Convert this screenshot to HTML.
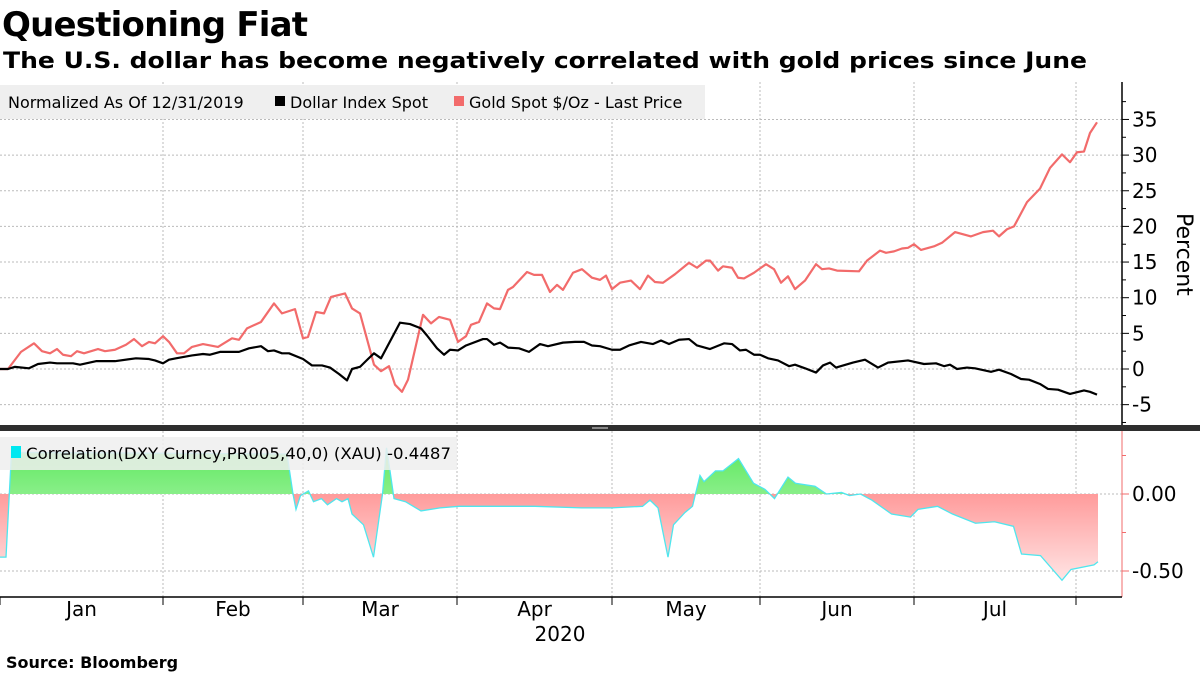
<!DOCTYPE html>
<html><head><meta charset="utf-8"><style>
html,body{margin:0;padding:0;background:#fff;width:1200px;height:675px;overflow:hidden}
svg{display:block;font-family:"DejaVu Sans","Liberation Sans",sans-serif}
</style></head><body>
<svg id="chart" width="1200" height="675">
<defs>
<linearGradient id="gGreen" x1="0" y1="0" x2="0" y2="1"><stop offset="0" stop-color="#5fe85f"/><stop offset="1" stop-color="#d6fbd6"/></linearGradient>
<linearGradient id="gRed" x1="0" y1="0" x2="0" y2="1"><stop offset="0" stop-color="#ff7474"/><stop offset="1" stop-color="#ffe4e4"/></linearGradient>
<clipPath id="clipAbove"><rect x="0" y="430" width="1122" height="64"/></clipPath>
<clipPath id="clipBelow"><rect x="0" y="494" width="1122" height="103"/></clipPath>
</defs>
<text x="2" y="36" font-size="34" font-weight="bold" textLength="306">Questioning Fiat</text>
<text x="3" y="68" font-size="22" font-weight="bold" textLength="1084" lengthAdjust="spacingAndGlyphs">The U.S. dollar has become negatively correlated with gold prices since June</text>
<g id="grid"></g>
<g id="marks"></g>
<rect x="0" y="425" width="1200" height="6" fill="#2e2e2e"/>
<rect x="592" y="427" width="16" height="2" fill="#888"/>
<g>
<rect x="0" y="85" width="705" height="34" fill="#efefef"/>
<text x="8" y="108" font-size="16">Normalized As Of 12/31/2019</text>
<rect x="275" y="96" width="10" height="10" fill="#000"/>
<text x="290" y="108" font-size="16">Dollar Index Spot</text>
<rect x="454" y="96" width="10" height="10" fill="#f26b6b"/>
<text x="469" y="108" font-size="16">Gold Spot $/Oz - Last Price</text>
</g>
<g>
<rect x="0" y="437" width="457" height="33" fill="#efefef" opacity="0.85"/>
<rect x="11" y="446" width="10" height="12" fill="#00e8f0"/>
<text x="26" y="459" font-size="16" textLength="425" lengthAdjust="spacingAndGlyphs">Correlation(DXY Curncy,PR005,40,0) (XAU) -0.4487</text>
</g>
<text x="0" y="0" font-size="22" transform="translate(1177,213) rotate(90)">Percent</text>
<text x="560" y="641" font-size="20" text-anchor="middle">2020</text>
<text x="6" y="668" font-size="16" font-weight="bold">Source: Bloomberg</text>
</svg>
<script>
const goldDays=[0,1.6,4.2,6.8,8.4,10,11.4,12.6,14.2,15.4,16.8,19.6,21,23,25.2,26.8,28.4,29.8,31,32.6,33.8,35.4,36.8,38.4,40.6,43.6,46.4,47.8,49.4,52.2,54.8,56.4,59,60.6,61.6,63.2,64.8,66.2,69,70.4,72,74.8,76.2,77.8,79,80.4,81.6,84.6,86.2,87.8,90,91.6,93.2,94.2,95.8,97.4,98.8,100,101.6,102.6,105.4,106.8,108.4,110,111.4,112.6,114.6,116.4,118.4,120,121.2,122.4,124,126.2,128,129.6,131,132.6,135,137.8,139.4,141.2,142,143.6,144.6,146.4,147.6,148.8,150.8,153.2,154.8,156.2,157.6,159,161,163.2,164.4,165.8,167.4,171.8,173.4,176,177.2,178.8,180.4,181.6,182.8,184.2,186.8,188.4,191,194.2,196.6,198.6,199.8,201.4,202.8,205.4,208,210,212.4,214,215.4,216.8,218,219.4];
const goldValues=[0,0,2.4,3.6,2.5,2.2,2.8,2.0,1.8,2.5,2.2,2.8,2.5,2.7,3.4,4.2,3.2,3.8,3.6,4.6,3.8,2.2,2.2,3.1,3.5,3.1,4.3,4.1,5.7,6.6,9.2,7.8,8.4,4.3,4.5,8.0,7.8,10.1,10.6,8.5,7.8,0.6,-0.3,0.4,-2.2,-3.2,-1.5,7.6,6.4,7.3,6.9,3.8,4.6,6.2,6.6,9.2,8.5,8.4,11.1,11.5,13.6,13.2,13.2,10.8,11.8,11.1,13.5,14.0,12.8,12.5,13.1,11.2,12.1,12.4,11.2,13.1,12.2,12.1,13.3,14.9,14.2,15.2,15.2,13.8,14.4,14.2,12.8,12.7,13.5,14.7,14.0,12.1,13.0,11.2,12.4,14.7,14.0,14.1,13.8,13.7,15.2,16.6,16.3,16.5,16.9,17.0,17.5,16.7,17.2,17.7,19.2,18.6,19.2,19.4,18.6,19.6,20.0,23.4,25.3,28.2,30.1,29.0,30.4,30.5,33.1,34.6];
const dollarDays=[0,1.6,3,5.8,7.6,10,11.4,14.6,16,19.2,23,27.2,29.8,31,32.6,33.8,35.2,38.4,40.6,42,44,47.8,49.8,52.2,53.6,54.8,56.4,57.8,60.6,62.4,64.4,66,67.8,69.4,70.4,72,73.6,74.8,76.2,80,82,84.2,85.4,87.4,88.8,90,91.6,93.2,96.6,97.4,98.8,100,101.6,103.8,105.8,108,109.6,112.6,115,116.8,118.4,120,122.4,124,125.8,128.2,130.6,132.2,133.8,135.8,137.8,139.4,142,144.8,146.4,148,149.2,150.8,152,153.6,155.6,157.8,159,161,163.2,164.6,166,167.2,170.6,173,175.6,177.6,181.6,184.8,187.2,188.8,190,191.4,193.4,195,198.2,199.8,202.2,204.2,205.8,208,209.6,211.6,214,216.8,218,219.4];
const dollarValues=[0,0,0.3,0.1,0.7,0.9,0.8,0.8,0.6,1.1,1.1,1.5,1.4,1.2,0.8,1.3,1.5,1.9,2.1,2.0,2.4,2.4,2.9,3.2,2.5,2.6,2.2,2.2,1.4,0.5,0.5,0.2,-0.7,-1.6,0,0.3,1.4,2.2,1.5,6.5,6.3,5.7,4.7,2.9,2.0,2.7,2.6,3.3,4.2,4.2,3.4,3.7,3.0,2.9,2.4,3.5,3.2,3.7,3.8,3.8,3.3,3.2,2.7,2.7,3.3,3.8,3.5,4.0,3.5,4.1,4.2,3.3,2.8,3.6,3.5,2.6,2.7,2.0,2.0,1.5,1.2,0.4,0.6,0.1,-0.5,0.5,0.9,0.2,0.9,1.3,0.2,0.9,1.2,0.7,0.8,0.4,0.6,0,0.2,0.1,-0.4,-0.1,-0.7,-1.4,-1.5,-2.1,-2.8,-2.9,-3.5,-3.0,-3.2,-3.6];
const corrDays=[0,1.2,2.3,57.4,58.6,59.2,60.1,61.7,62.7,64.3,65.5,67.3,68.4,69.6,70.4,72.7,74.7,76.5,77.3,78,78.8,81.1,84.2,88,91.8,107,116.3,122.4,128.5,130,131.6,133.6,134.7,137,138.5,140,140.8,143.1,144.6,147.7,150.7,153,154.9,157.6,159.1,163,165.3,168.3,169.9,172.1,174.4,178.3,182.1,183.6,187.5,190.5,195.1,198.9,202.7,204.3,208.1,212.4,214.2,218.8,219.6];
const corrValues=[-0.41,-0.41,0.27,0.26,0,-0.1,-0.01,0.02,-0.05,-0.03,-0.07,-0.03,-0.05,-0.03,-0.13,-0.2,-0.41,0,0.3,0.15,-0.03,-0.05,-0.11,-0.09,-0.08,-0.08,-0.09,-0.09,-0.08,-0.04,-0.09,-0.41,-0.2,-0.12,-0.08,0.12,0.08,0.15,0.15,0.23,0.07,0.03,-0.03,0.11,0.07,0.05,0,0.01,-0.01,0,-0.04,-0.13,-0.15,-0.1,-0.08,-0.13,-0.19,-0.18,-0.21,-0.39,-0.4,-0.56,-0.49,-0.46,-0.44];
const monthTickDays=[0,32.6,60.6,91.4,122.4,152,182.8,215.2];
const monthLabels=["Jan","Feb","Mar","Apr","May","Jun","Jul"];
const topTicks=[-5,0,5,10,15,20,25,30,35];
const bottomTicks=[0,-0.5];

const NS="http://www.w3.org/2000/svg";
const xS=d=>d*5.0;
const yTop=v=>369-v*7.13;
const yBot=v=>494-v*154;
const AX=1122;
function mk(tag,attrs,parent){const e=document.createElementNS(NS,tag);for(const k in attrs)e.setAttribute(k,attrs[k]);parent.appendChild(e);return e;}
const grid=document.getElementById('grid'), marks=document.getElementById('marks');

// horizontal gridlines + labels top
topTicks.forEach(t=>{
  const l=mk('line',{x1:0,x2:AX,y1:yTop(t),y2:yTop(t),stroke:'#bbb','stroke-dasharray':'2,2'},grid);
  
  
  mk('line',{x1:AX,x2:AX+7,y1:yTop(t),y2:yTop(t),stroke:'#000'},grid);
  const tx=mk('text',{x:AX+10,y:yTop(t)+7,'font-size':20},grid);tx.textContent=String(t);
  
  
});
for(let v=-7.5;v<=40;v+=5){mk('line',{x1:AX,x2:AX+4,y1:yTop(v),y2:yTop(v),stroke:'#000'},grid);}
mk('line',{x1:AX,x2:AX,y1:82,y2:425,stroke:'#000','stroke-width':1.5},grid);
// bottom panel grid
bottomTicks.forEach(t=>{
  mk('line',{x1:0,x2:AX,y1:yBot(t),y2:yBot(t),stroke:'#bbb','stroke-dasharray':'2,2'},grid);
  mk('line',{x1:AX,x2:AX+7,y1:yBot(t),y2:yBot(t),stroke:'#f26b6b'},grid);
  const tx=mk('text',{x:AX+10,y:yBot(t)+7,'font-size':20},grid);tx.textContent=t===0?'0.00':'-0.50';
  
  
});
[0.25,-0.25].forEach(t=>mk('line',{x1:AX,x2:AX+4,y1:yBot(t),y2:yBot(t),stroke:'#f26b6b'},grid));
mk('line',{x1:AX,x2:AX,y1:431,y2:597,stroke:'#f26b6b'},grid);
// vertical gridlines and month ticks
monthTickDays.forEach((d,i)=>{
  if(i>0){mk('line',{x1:xS(d),x2:xS(d),y1:82,y2:425,stroke:'#bbb','stroke-dasharray':'2,2'},grid);
  mk('line',{x1:xS(d),x2:xS(d),y1:431,y2:597,stroke:'#bbb','stroke-dasharray':'2,2'},grid);}
  mk('line',{x1:xS(d),x2:xS(d),y1:597,y2:605,stroke:'#000'},grid);
  if(i<monthLabels.length){
    const tx=mk('text',{x:(xS(d)+xS(monthTickDays[i+1]))/2,y:616,'font-size':20,'text-anchor':'middle'},grid);
    tx.textContent=monthLabels[i];
    
    
  }
});
mk('line',{x1:0,x2:AX,y1:597,y2:597,stroke:'#000','stroke-width':1.5},grid);

// correlation area
const cpts=corrDays.map((d,i)=>xS(d)+','+yBot(corrValues[i]));
const areaD='M'+xS(corrDays[0])+','+yBot(0)+' L'+cpts.join(' L')+' L'+xS(corrDays[corrDays.length-1])+','+yBot(0)+' Z';
const ga=mk('path',{d:areaD,fill:'url(#gGreen)','clip-path':'url(#clipAbove)'},marks);


const ra=mk('path',{d:areaD,fill:'url(#gRed)','clip-path':'url(#clipBelow)'},marks);


const cl=mk('polyline',{points:cpts.join(' '),fill:'none',stroke:'#4fe6ee','stroke-width':1.3},marks);



const gl=mk('polyline',{points:goldDays.map((d,i)=>xS(d)+','+yTop(goldValues[i])).join(' '),fill:'none',stroke:'#f26b6b','stroke-width':2.2,'stroke-linejoin':'round'},marks);


const dl=mk('polyline',{points:dollarDays.map((d,i)=>xS(d)+','+yTop(dollarValues[i])).join(' '),fill:'none',stroke:'#000','stroke-width':2.2,'stroke-linejoin':'round'},marks);


</script>
</body></html>
